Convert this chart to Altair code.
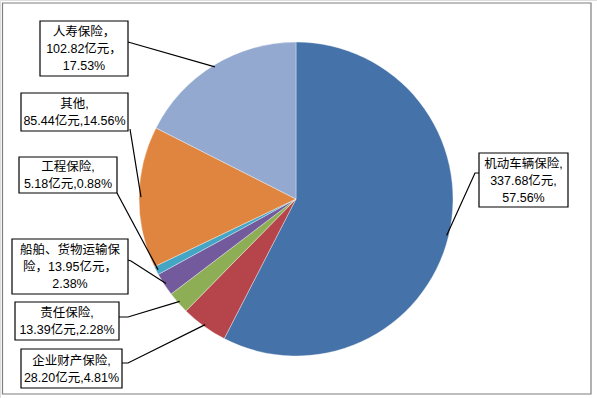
import math
import altair as alt
import pandas as pd

# ---- data ----
categories = ["机动车辆保险", "企业财产保险", "责任保险", "船舶、货物运输保险", "工程保险", "其他", "人寿保险"]
values = [337.68, 28.20, 13.39, 13.95, 5.18, 85.44, 102.82]
percents = [57.56, 4.81, 2.28, 2.38, 0.88, 14.56, 17.53]
label_templates = [
    "{n},\n{v}亿元,\n{p}%",
    "{n},\n{v}亿元,{p}%",
    "{n},\n{v}亿元,{p}%",
    "船舶、货物运输保\n险，{v}亿元，\n{p}%",
    "{n},\n{v}亿元,{p}%",
    "{n},\n{v}亿元,{p}%",
    "{n}，\n{v}亿元，\n{p}%",
]
colors = ["#4572A8", "#B5454A", "#8EAE55", "#725A9C", "#45A5C4", "#E0853F", "#94A9D0"]

# ---- layout (pixels) ----
W, H = 597, 398
CX, CY, R = 296, 199, 157
LH = 17
# label box: center x, center y, width, height
boxes = [
    (523.5, 180, 89, 54),
    (71.5, 368.5, 101, 39),
    (67, 321, 104, 38),
    (70, 266.5, 116, 55),
    (68, 175, 98, 36),
    (74.5, 112, 107, 38),
    (84, 48.5, 88, 55),
]
# leader start and kink points
leader_start = [(479, 173), (122, 363), (119, 317), (128, 260), (117, 193), (130, 129), (128, 42)]
leader_kink = [(475, 173), (128, 363), (128, 317), (131, 261), (117, 193), (130, 129), (128, 42)]

total = sum(values)
pie_df = pd.DataFrame({"cat": categories, "value": values, "idx": list(range(len(values)))})

# leader end points at mid-angle of each slice (computed from the data)
line_rows = []
cum = 0.0
for i, v in enumerate(values):
    mid = (cum + v / 2) / total * 2 * math.pi
    cum += v
    ex = CX + (R - 2) * math.sin(mid)
    ey = CY - (R - 2) * math.cos(mid)
    pts = [leader_start[i], leader_kink[i], (ex, ey)]
    for k, (px, py) in enumerate(pts):
        line_rows.append({"id": i, "k": k, "x": px, "y": py})
line_df = pd.DataFrame(line_rows)

box_rows = []
for i, (bx, by, bw, bh) in enumerate(boxes):
    txt = label_templates[i].format(n=categories[i], v=f"{values[i]:.2f}", p=f"{percents[i]:.2f}")
    nlines = txt.count("\n") + 1
    box_rows.append({"x": bx - bw / 2, "x2": bx + bw / 2, "y": by - bh / 2, "y2": by + bh / 2,
                     "cx": bx, "cy": by - (nlines - 1) * LH / 2 + 0.5, "text": txt})
box_df = pd.DataFrame(box_rows)

xs = alt.Scale(domain=[0, W], range=[0, W], nice=False, zero=False)
ys = alt.Scale(domain=[0, H], range=[0, H], nice=False, zero=False)

frame = alt.Chart(pd.DataFrame({"a": [0]})).mark_rect(
    fill="white", stroke="#7f7f7f", strokeWidth=1.2
).encode(x=alt.value(2.5), x2=alt.value(591), y=alt.value(3), y2=alt.value(394))

pie = alt.Chart(pie_df).mark_arc(outerRadius=R, stroke="white", strokeWidth=0.6, strokeOpacity=0.6).encode(
    theta=alt.Theta("value:Q", stack=True),
    order=alt.Order("idx:Q"),
    color=alt.Color("cat:N", scale=alt.Scale(domain=categories, range=colors), legend=None),
    x=alt.value(CX), y=alt.value(CY),
)

leaders = alt.Chart(line_df).mark_line(color="black", strokeWidth=1.2).encode(
    x=alt.X("x:Q", scale=xs, axis=None),
    y=alt.Y("y:Q", scale=ys, axis=None),
    detail="id:N",
    order="k:Q",
)

rects = alt.Chart(box_df).mark_rect(fill="white", stroke="black", strokeWidth=1.2).encode(
    x=alt.X("x:Q", scale=xs, axis=None), x2="x2:Q",
    y=alt.Y("y:Q", scale=ys, axis=None), y2="y2:Q",
)

texts = alt.Chart(box_df).mark_text(
    font="Liberation Sans, Noto Sans CJK SC", fontSize=12.5, lineBreak="\n", lineHeight=LH,
    align="center", baseline="middle", color="black"
).encode(
    x=alt.X("cx:Q", scale=xs, axis=None),
    y=alt.Y("cy:Q", scale=ys, axis=None),
    text="text:N",
)

chart = alt.layer(frame, pie, leaders, rects, texts).properties(
    width=W, height=H, autosize=alt.AutoSizeParams(type="none"), padding=0
).configure_view(stroke=None).configure(background="white")

chart.save("out.html", embed_options={"renderer": "svg", "actions": False})
